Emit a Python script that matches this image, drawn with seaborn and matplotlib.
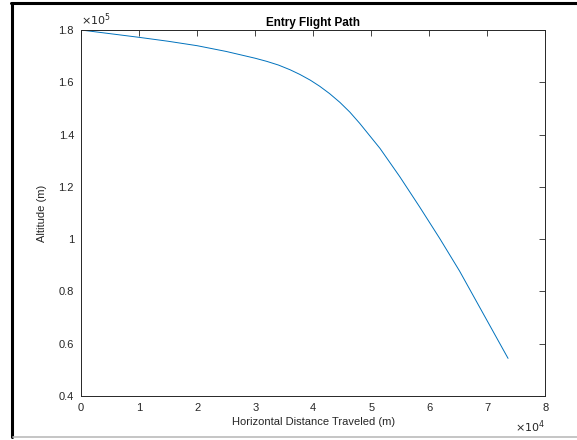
import matplotlib
matplotlib.use('Agg')
import matplotlib.pyplot as plt
from matplotlib.ticker import FuncFormatter
from matplotlib.lines import Line2D
import seaborn as sns
import pandas as pd

# horizontal distance (m) and altitude (m)
distance = [0, 5000, 10000, 15000, 20000, 25000, 30000, 32000, 34000, 36000,
            37700, 39500, 41100, 42800, 44600, 46300, 48000, 51500, 54900,
            58300, 61800, 65200, 69900, 73550]
altitude = [180000, 178600, 177200, 175700, 174000, 171800, 169200, 168000, 166600, 164800,
            163000, 160800, 158500, 155700, 152300, 148600, 144300, 134700, 123900,
            112400, 100200, 87800, 69000, 54400]
x_ticks = [0, 10000, 20000, 30000, 40000, 50000, 60000, 70000, 80000]
y_ticks = [40000, 60000, 80000, 100000, 120000, 140000, 160000, 180000]

df = pd.DataFrame({'distance': distance, 'altitude': altitude})

sns.set_style('white')
plt.rcParams['font.family'] = ['Liberation Sans', 'DejaVu Sans']
axcol = '#262626'

fig = plt.figure(figsize=(5.77, 4.40), dpi=100)
ax = fig.add_axes([0.1404, 0.10, 0.805, 0.8318])
sns.lineplot(data=df, x='distance', y='altitude', sort=False, ax=ax,
             color='#0072BD', linewidth=0.7)

ax.set_xlim(0, 80000)
ax.set_ylim(40000, 180000)
ax.set_xticks(x_ticks)
ax.set_yticks(y_ticks)
ax.xaxis.set_major_formatter(FuncFormatter(lambda v, p: f'{v/1e4:g}'))
ax.yaxis.set_major_formatter(FuncFormatter(lambda v, p: f'{v/1e5:g}'))
ax.tick_params(direction='in', length=4, width=0.6, colors=axcol, labelsize=8,
               top=True, right=True, pad=5)
for s in ax.spines.values():
    s.set_color(axcol)
    s.set_linewidth(0.7)

ax.set_xlabel('Horizontal Distance Traveled (m)', fontsize=8, color=axcol, labelpad=3)
ax.set_ylabel('Altitude (m)', fontsize=8, color=axcol, labelpad=8)
ax.set_title('Entry Flight Path', fontsize=8.5, fontweight='bold', color='black', pad=3)

ax.text(0.0, 1.005, r'$\times10^{5}$', transform=ax.transAxes, fontsize=8,
        color=axcol, ha='left', va='bottom')
ax.text(1.0, -0.085, r'$\times10^{4}$', transform=ax.transAxes, fontsize=8,
        color=axcol, ha='right', va='center')

# screenshot frame
fig.add_artist(Line2D([11/577, 1], [1 - 3/440] * 2, color='black', lw=2.2))
fig.add_artist(Line2D([12/577] * 2, [1 - 3/440, 1 - 437/440], color='black', lw=2.2))
fig.add_artist(Line2D([13/577, 1], [1 - 437/440] * 2, color='#bbbbbb', lw=1.2))

fig.savefig('out.png', dpi=100)
